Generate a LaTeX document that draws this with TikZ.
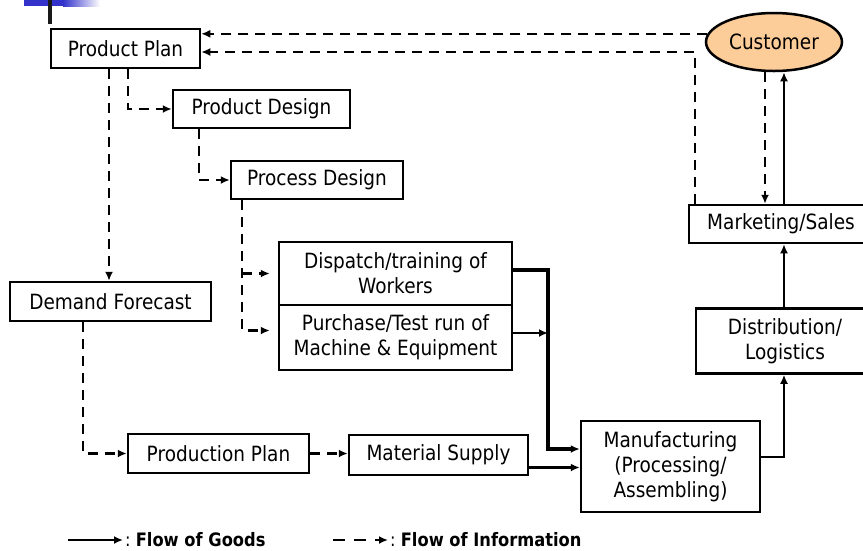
\documentclass[tikz,border=0pt]{standalone}
\usepackage{fontspec}
\setmainfont{DejaVu Sans}[FakeStretch=0.88]
\usepackage{xcolor}
\usepackage{tikz}
\usetikzlibrary{arrows.meta, positioning, shapes.geometric, calc}

\definecolor{custfill}{RGB}{252,204,153}
\definecolor{slideblue}{RGB}{51,51,204}

\begin{document}
\begin{tikzpicture}[
    x=1pt, y=-1pt,
    >={Latex[length=9pt, width=8pt]},
    box/.style={rectangle, draw=black, line width=2.5pt, align=center, fill=white, inner sep=2pt, font=\fontsize{21}{25}\selectfont},
    custnode/.style={ellipse, draw=black, line width=2.5pt, fill=custfill, inner sep=1pt, font=\fontsize{21}{25}\selectfont},
    goods/.style={->, line width=2.5pt, draw=black},
    info/.style={->, line width=2.5pt, draw=black, dash pattern=on 10pt off 7pt},
    legendtext/.style={anchor=west, inner sep=2pt, font=\fontsize{18.5}{22}\selectfont}
]
\useasboundingbox (0,0) rectangle (863,550);

% =============================================================
% Slide decoration (top left)
% =============================================================
\fill[slideblue] (24,0) rectangle (63,6);
\shade[left color=slideblue, right color=white] (63,0) rectangle (100,6);
\fill[black!90] (48,0) rectangle (52,24);

% =============================================================
% Planning / design column
% =============================================================
\node[box, minimum width=149, minimum height=39] (plan) at (125.5, 48.5) {Product Plan};
\node[box, minimum width=177, minimum height=38] (pdesign) at (261.5, 109) {Product Design};
\node[box, minimum width=172, minimum height=38] (prdesign) at (317, 180) {Process Design};
\node[box, minimum width=233, minimum height=63] (dispatch) at (395.5, 273.5) {Dispatch/training of\\Workers};
\node[box, minimum width=233, minimum height=65] (purchase) at (395.5, 337.5) {Purchase/Test run of\\Machine \& Equipment};
\node[box, minimum width=201, minimum height=39] (demand) at (110.5, 301.5) {Demand Forecast};

% =============================================================
% Production row
% =============================================================
\node[box, minimum width=181, minimum height=39] (prodplan) at (218.5, 453.5) {Production Plan};
\node[box, minimum width=179, minimum height=40] (matsup) at (438.5, 455) {Material Supply};
\node[box, minimum width=179, minimum height=91] (mfg) at (670.5, 466.5) {Manufacturing\\(Processing/\\Assembling)};

% =============================================================
% Market column (right)
% =============================================================
\node[custnode, minimum width=136, minimum height=58] (customer) at (774, 42) {Customer};
\node[box, minimum width=184, minimum height=38] (mkt) at (781, 224) {Marketing/Sales};
\node[box, minimum width=178, minimum height=65] (dist) at (785, 341) {Distribution/\\Logistics};
\coordinate (upx) at (784, 0);
\coordinate (jx) at (548, 0);

% Information flow (dashed)
\draw[info] (customer.173) -- (customer.173 -| plan.east);
\draw[info] ($(mkt.north west)+(7,0)$) |- ($(plan.east)+(0,3.5)$);
\draw[info] ($(customer.south)+(-9,0)$) coordinate (cdn) -- (cdn |- mkt.north);
\draw[info] ($(plan.south)+(2.5,0)$) |- (pdesign.west);
\draw[info] ($(plan.south)+(-16.5,0)$) coordinate (pdn) -- (pdn |- demand.north);
\draw[info] ($(pdesign.south west)+(27,0)$) |- (prdesign.west);
\draw[info, shorten >=8pt] ($(prdesign.south west)+(12,0)$) coordinate (pdx) |- ($(purchase.west)+(0,-7)$);
\draw[info, shorten >=8pt] (pdx |- dispatch.west) -- (dispatch.west);
\draw[info] ($(demand.south west)+(74,0)$) |- (prodplan.west);
\draw[info] (prodplan.east) -- (prodplan.east -| matsup.west);

% Goods flow (solid)
\draw[goods, line width=3.5pt] ($(dispatch.east)+(0,-3.5)$) -| (jx |- mfg.north) -- (jx |- {$(mfg.west)+(0,-17.5)$}) -- ($(mfg.west)+(0,-17.5)$);
\draw[goods] ($(purchase.east)+(0,-4.5)$) coordinate (pout) -- (pout -| jx);
\draw[goods] ($(matsup.east)+(0,12.5)$) coordinate (msout) -- (msout -| mfg.west);
\draw[goods] ($(mfg.east)+(0,-9.5)$) -| (upx |- dist.south);
\draw[goods] (upx |- dist.north) -- (upx |- mkt.south);
\draw[goods] (upx |- mkt.north) -- (upx |- customer.south);

% =============================================================
% Legend
% =============================================================
\coordinate (lg1) at (68, 540);
\coordinate (lg2) at (333, 540);
\node[legendtext] (lgoods) at (123, 540) {:\ \textbf{Flow of Goods}};
\node[legendtext] (linfo) at (388, 540) {:\ \textbf{Flow of Information}};
\draw[goods] (lg1) -- (lgoods.west);
\draw[info, dash pattern=on 12pt off 9pt] (lg2) -- (linfo.west);

\end{tikzpicture}
\end{document}
